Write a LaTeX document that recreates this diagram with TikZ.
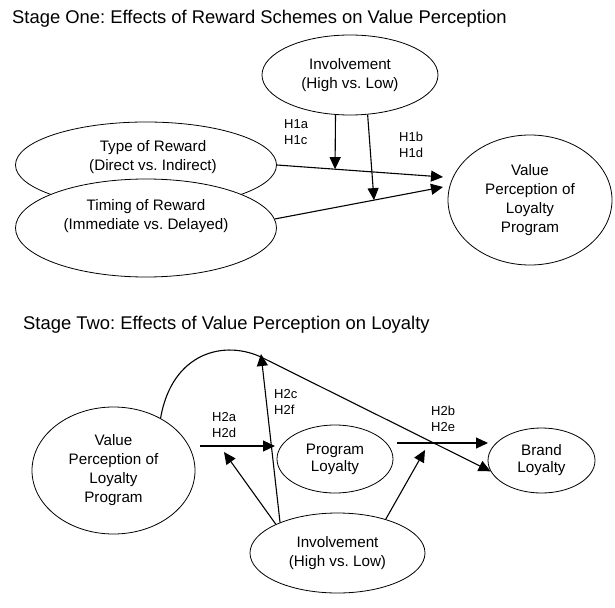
\documentclass[tikz,border=0pt]{standalone}
\usepackage{fontspec}
\setmainfont{Liberation Sans}
\frenchspacing
\usepackage{tikz}
\usetikzlibrary{arrows.meta,shapes.geometric}
\tikzset{myellipse/.style={draw,ellipse,line width=0.8pt,inner sep=0pt,align=center,font=\fontsize{15.2}{19}\selectfont},
mytext/.style={inner sep=0pt,align=center,font=\fontsize{15.2}{19}\selectfont},
myarrow/.style={-{Triangle[length=12pt,width=11pt]},line width=1.1pt},
myhyp/.style={anchor=west,inner sep=0pt,align=left,font=\fontsize{13}{16}\selectfont},
mytitle/.style={anchor=base west,inner sep=0pt,font=\fontsize{18.4}{22}\selectfont}}

\begin{document}
\begin{tikzpicture}[x=1pt,y=-1pt]
\useasboundingbox (0,0) rectangle (615,607);
\node[mytitle] (title1) at (12,23.3) {Stage One: Effects of Reward Schemes on Value Perception};
\node[myellipse,minimum width=176pt,minimum height=80pt] (inv1) at (350,75) {Involvement\\(High vs. Low)};
\node[myellipse,minimum width=261pt,minimum height=86pt] (type) at (146,165) {};
\node[mytext] (typetxt) at (153,157) {Type of Reward\\(Direct vs. Indirect)};
\node[myellipse,fill=white,minimum width=261pt,minimum height=98pt] (timing) at (146,228) {};
\node[mytext] (timingtxt) at (146,216.5) {Timing of Reward\\(Immediate vs. Delayed)};
\node[myellipse,minimum width=164pt,minimum height=130pt] (vp1) at (530,200) {Value\\Perception of\\Loyalty\\Program};
\coordinate (e1) at (443,177);
\coordinate (e2) at (443,187);
\draw[myarrow] (type.east) -- coordinate[pos=0.35] (m1) (e1);
\draw[myarrow] (timing.4) -- coordinate[pos=0.59] (m2) (e2);
\draw[myarrow] (inv1.250) -- (m1);
\draw[myarrow] (inv1.294) -- (m2);
\node[myhyp] (h1ac) at (284,132) {H1a\\H1c};
\node[myhyp] (h1bd) at (399,144.5) {H1b\\H1d};

\node[mytitle] (title2) at (23,329.5) {Stage Two: Effects of Value Perception on Loyalty};
\node[myellipse,minimum width=163pt,minimum height=127pt] (vp2) at (113.5,470.5) {Value\\Perception of\\Loyalty\\Program};
\node[myellipse,minimum width=116pt,minimum height=68pt,font=\fontsize{15.2}{17}\selectfont] (pl) at (335,459) {Program\\Loyalty};
\node[myellipse,minimum width=107pt,minimum height=65pt,font=\fontsize{15.2}{17}\selectfont] (bl) at (541.5,460.5) {Brand\\Loyalty};
\node[myellipse,minimum width=175pt,minimum height=80pt] (inv2) at (337.5,553) {Involvement\\(High vs. Low)};
\coordinate (a1s) at (200,446);
\coordinate (a1e) at (275,446);
\coordinate (a2s) at (397,443);
\coordinate (a2e) at (488,443);
\coordinate (c1) at (224,452);
\coordinate (c2) at (261,354);
\coordinate (c3) at (425,450);
\draw[myarrow] (a1s) -- (a1e);
\draw[myarrow] (a2s) -- (a2e);
\draw[myarrow] (vp2.48) .. controls (172,352) and (225,339) .. (263,358) -- (bl.192);
\draw[myarrow] (inv2.155) -- (c1);
\draw[myarrow] (inv2.152) -- (c2);
\draw[myarrow] (inv2.35) -- (c3);
\node[myhyp] (h2ad) at (212,425.5) {H2a\\H2d};
\node[myhyp] (h2cf) at (274,402) {H2c\\H2f};
\node[myhyp] (h2be) at (431,418.5) {H2b\\H2e};
\end{tikzpicture}
\end{document}
